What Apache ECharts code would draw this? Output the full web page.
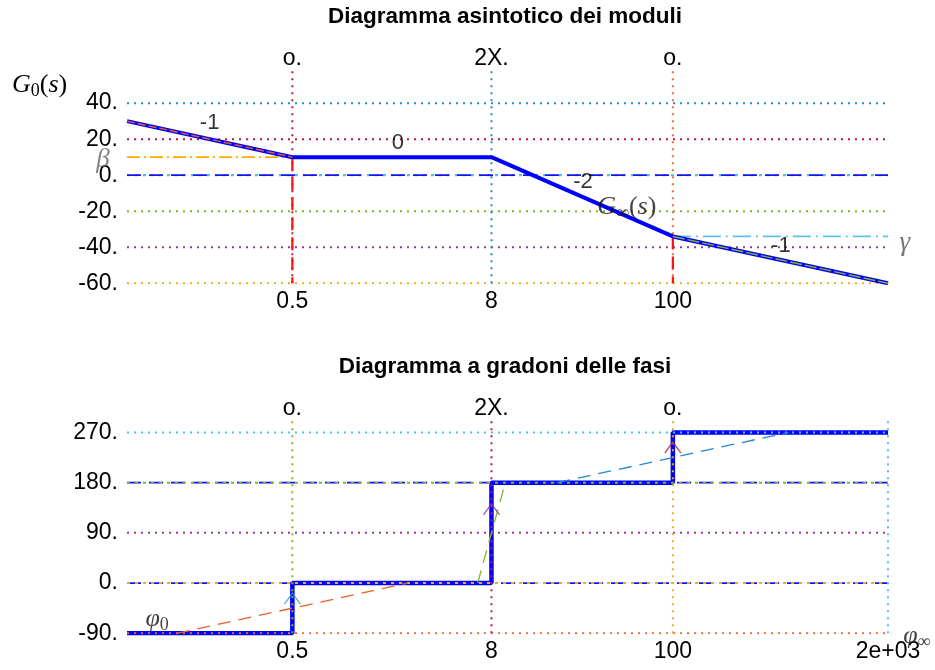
<!DOCTYPE html>
<html>
<head>
<meta charset="utf-8">
<script src="https://cdn.jsdelivr.net/npm/echarts@6/dist/echarts.min.js"></script>
<style>
html, body { margin: 0; padding: 0; background: #fff; }
#chart { width: 935px; height: 670px; }
</style>
</head>
<body>
<div id="chart"></div>
<script>
// ---- data: asymptotic magnitude (dB) ----
const freqRange = [0.05, 2000];
const magFreq = [0.05, 0.5, 8, 100, 2000];
const magDb = [30, 10, 10, -34, -60];
const magTicks = [-60, -40, -20, 0, 20, 40];
const magRange = [-60, 58];
const magXTicks = [0.5, 8, 100];
const magXLabels = ['0.5', '8', '100'];
const breakFreqs = [0.5, 8, 100];
const breakTags = ['o.', '2X.', 'o.'];
const betaDb = 10;
const gammaDb = -34;
const slopeText = ['-1', '0', '-2', '-1'];
const slopeFreq = [0.158, 2.17, 28.6, 450];
const slopeDb = [29, 17.9, -3.7, -39.3];

// ---- data: step phase diagram (deg) ----
const phaseFreq = [0.05, 0.5, 8, 100, 2000];
const phaseDeg = [-90, 0, 180, 270, 270];
const phaseTicks = [-90, 0, 90, 180, 270];
const phaseRange = [-90, 291];
const phaseXTicks = [0.5, 8, 100, 2000];
const phaseXLabels = ['0.5', '8', '100', '2e+03'];
const rampFreq = [[0.1, 2.5], [6.6, 9.7], [20, 500]];
const rampDeg = [[-90, 0], [0, 180], [180, 270]];
const arrowDeg = [-18, 142, 253];

const SANS = 'Liberation Sans, Arial, sans-serif';
const SERIF = 'Liberation Serif, Times New Roman, serif';
const DOT = [2, 5];
const TICK_FONT = 23;

function hLine(gi, y, color, dash, width, z) {
  return {
    type: 'line', xAxisIndex: gi * 2, yAxisIndex: gi, silent: true, symbol: 'none', z: z || 2,
    data: [[freqRange[0], y], [freqRange[1], y]],
    lineStyle: { color: color, type: dash, width: width || 2, cap: 'butt' }
  };
}
function vLine(gi, x, y0, y1, color, dash, width, z) {
  return {
    type: 'line', xAxisIndex: gi * 2, yAxisIndex: gi, silent: true, symbol: 'none', z: z || 2,
    data: [[x, y0], [x, y1]],
    lineStyle: { color: color, type: dash, width: width || 2, cap: 'butt' }
  };
}
function seg(gi, pts, color, dash, width, z) {
  return {
    type: 'line', xAxisIndex: gi * 2, yAxisIndex: gi, silent: true, symbol: 'none', z: z || 2,
    data: pts, lineStyle: { color: color, type: dash, width: width, cap: 'butt' }
  };
}
function textMarks(gi, items, z) {
  return {
    type: 'scatter', xAxisIndex: gi * 2, yAxisIndex: gi, silent: true, symbolSize: 0, clip: false, z: z || 10,
    data: items.map(it => ({
      value: [it.x, it.y],
      label: Object.assign({ show: true, position: 'inside', formatter: it.t }, it.style || {})
    }))
  };
}

const mathRich = {
  i: { fontFamily: SERIF, fontStyle: 'italic', fontSize: 26, color: '#111', lineHeight: 30, verticalAlign: 'middle' },
  n: { fontFamily: SERIF, fontSize: 26, color: '#111', lineHeight: 30, verticalAlign: 'middle' },
  s: { fontFamily: SERIF, fontSize: 18, color: '#111', lineHeight: 30, verticalAlign: 'bottom' }
};

const series = [];
const magPts = magFreq.map((f, i) => [f, magDb[i]]);

// --- magnitude plot: reference levels ---
series.push(hLine(0, 40, '#1E8ED6', DOT));
series.push(hLine(0, 20, '#C0173F', DOT));
series.push(hLine(0, 0, '#4EC4F0', [3, 5], 2.2));
series.push(hLine(0, 0, '#1414F0', [14, 8], 1.8));
series.push(hLine(0, -20, '#7CB82A', DOT));
series.push(hLine(0, -40, '#8E3BA2', DOT));
series.push(hLine(0, -60, '#F2A91E', DOT));
series.push(seg(0, [[freqRange[0], betaDb], [breakFreqs[0], betaDb]], '#FFAA00', [13, 4, 2, 4], 1.8));
series.push(seg(0, [[breakFreqs[2], gammaDb], [freqRange[1], gammaDb]], '#5CC2EE', [18, 5, 2, 5], 1.8));
// vertical markers at the corner frequencies
series.push(vLine(0, breakFreqs[0], magRange[0], magRange[1], '#B51F42', DOT));
series.push(vLine(0, breakFreqs[1], magRange[0], magRange[1], '#1E88D2', DOT));
series.push(vLine(0, breakFreqs[2], magRange[0], magRange[1], '#F06A2C', DOT));
series.push(vLine(0, breakFreqs[0], betaDb, magRange[0], '#FF1010', [13, 7], 2.2, 4));
series.push(vLine(0, breakFreqs[2], gammaDb, magRange[0], '#FF1010', [13, 7], 2.2, 4));
// asymptotic magnitude
series.push(seg(0, magPts, '#0000FF', 'solid', 4, 5));
series.push(seg(0, magPts.slice(0, 2), '#E8602C', [8, 3], 1.4, 6));
series.push(seg(0, magPts.slice(3), '#8AAE34', [12, 3], 1.4, 6));

// --- phase plot ---
series.push({
  type: 'line', xAxisIndex: 2, yAxisIndex: 1, silent: true, symbol: 'none', step: 'end', z: 2,
  data: phaseFreq.map((f, i) => [f, phaseDeg[i]]),
  lineStyle: { color: '#0000FF', width: 4.5 }
});
series.push(hLine(1, 270, '#4EC4F0', DOT, 2, 3));
series.push(hLine(1, 180, '#1414F0', [14, 8], 1.8, 3));
series.push(hLine(1, 180, '#7CB82A', [3, 5], 2, 3));
series.push(hLine(1, 90, '#8E3BA2', DOT, 2, 3));
series.push(hLine(1, 0, '#1414F0', [14, 8], 1.8, 3));
series.push(hLine(1, 0, '#F2A91E', [3, 5], 2, 3));
series.push(hLine(1, -90, '#EE6A2E', DOT, 2, 3));
series.push(vLine(1, breakFreqs[0], phaseRange[0], phaseRange[1], '#7CB82A', DOT, 2, 3));
series.push(vLine(1, breakFreqs[1], phaseRange[0], phaseRange[1], '#B51F42', DOT, 2, 3));
series.push(vLine(1, breakFreqs[2], phaseRange[0], phaseRange[1], '#F2A91E', DOT, 2, 3));
series.push(vLine(1, freqRange[1], phaseRange[0], phaseRange[1], '#4EC4F0', DOT, 2, 3));
const rampColors = ['#E8602C', '#7CB82A', '#1E88D2'];
rampFreq.forEach((r, k) => {
  series.push(seg(1, [[r[0], rampDeg[k][0]], [r[1], rampDeg[k][1]]], rampColors[k], [13, 8], 1.3, 4));
});
const arrowColors = ['#2A9BD8', '#8E3BA2', '#B51F42'];
series.push({
  type: 'scatter', xAxisIndex: 2, yAxisIndex: 1, silent: true, z: 6,
  symbol: 'path://M0,11 L8,0 L16,11', symbolSize: [16, 11], symbolOffset: [0, '50%'],
  data: breakFreqs.map((f, k) => ({
    value: [f, arrowDeg[k]],
    itemStyle: { color: 'none', borderColor: arrowColors[k], borderWidth: 1.3 }
  }))
});

// --- in-plot annotations ---
series.push(textMarks(0, slopeText.map((t, k) => ({
  t: t, x: slopeFreq[k], y: slopeDb[k],
  style: { fontFamily: SANS, fontSize: 22, color: '#000' }
}))));
series.push(textMarks(0, [
  { t: '{i|G}{s|∞}{n|(}{i|s}{n|)}', x: 52.7, y: -17.6, style: { rich: mathRich } },
  { t: 'β', x: 0.0358, y: 8.5, style: { fontFamily: SERIF, fontStyle: 'italic', fontSize: 27, color: '#666' } },
  { t: 'γ', x: 2529, y: -37.6, style: { fontFamily: SERIF, fontStyle: 'italic', fontSize: 27, color: '#555' } }
]));
series.push(textMarks(1, [
  { t: '{i|φ}{s|0}', x: 0.076, y: -64.4, style: { rich: mathRich } },
  { t: '{i|φ}{s|∞}', x: 2987, y: -94.8, style: { rich: mathRich } }
]));

function xAxes(gi, ticks, labels) {
  const base = {
    type: 'log', logBase: 10, gridIndex: gi, min: freqRange[0], max: freqRange[1],
    axisLine: { show: false }, axisTick: { show: false }, splitLine: { show: false }, minorTick: { show: false }
  };
  return [
    Object.assign({}, base, {
      position: 'bottom',
      axisLabel: {
        customValues: ticks, margin: 7, color: '#000', fontFamily: SANS, fontSize: TICK_FONT,
        formatter: v => { const k = ticks.findIndex(t => Math.abs(t - v) / t < 1e-6); return k >= 0 ? labels[k] : ''; }
      }
    }),
    Object.assign({}, base, {
      position: 'top',
      axisLabel: {
        customValues: breakFreqs, margin: 1, color: '#000', fontFamily: SANS, fontSize: TICK_FONT,
        formatter: v => { const k = breakFreqs.findIndex(t => Math.abs(t - v) / t < 1e-6); return k >= 0 ? breakTags[k] : ''; }
      }
    })
  ];
}
function yAxis(gi, range, ticks, step) {
  return {
    type: 'value', gridIndex: gi, min: range[0], max: range[1], interval: step,
    axisLine: { show: false }, axisTick: { show: false }, splitLine: { show: false },
    axisLabel: {
      customValues: ticks, margin: 9, color: '#000', fontFamily: SANS, fontSize: TICK_FONT,
      formatter: v => (ticks.indexOf(v) >= 0 ? v + '.' : '')
    }
  };
}

const chart = echarts.init(document.getElementById('chart'), null, { renderer: 'canvas' });
chart.setOption({
  animation: false,
  backgroundColor: '#fff',
  grid: [
    { left: 127, top: 70.7, width: 761, height: 212.6 },
    { left: 127, top: 420.7, width: 761, height: 212.6 }
  ],
  xAxis: xAxes(0, magXTicks, magXLabels).concat(xAxes(1, phaseXTicks, phaseXLabels)),
  yAxis: [yAxis(0, magRange, magTicks, 20), yAxis(1, phaseRange, phaseTicks, 90)],
  graphic: [
    { type: 'text', x: 505, y: 17, style: { text: 'Diagramma asintotico dei moduli', font: 'bold 22.5px ' + SANS, fill: '#000', align: 'center', verticalAlign: 'middle' } },
    { type: 'text', x: 505, y: 367, style: { text: 'Diagramma a gradoni delle fasi', font: 'bold 22.5px ' + SANS, fill: '#000', align: 'center', verticalAlign: 'middle' } },
    { type: 'text', x: 12, y: 85, style: { text: '{i|G}{s|0}{n|(}{i|s}{n|)}', rich: mathRich, verticalAlign: 'middle' } }
  ],
  series: series
});
</script>
</body>
</html>
